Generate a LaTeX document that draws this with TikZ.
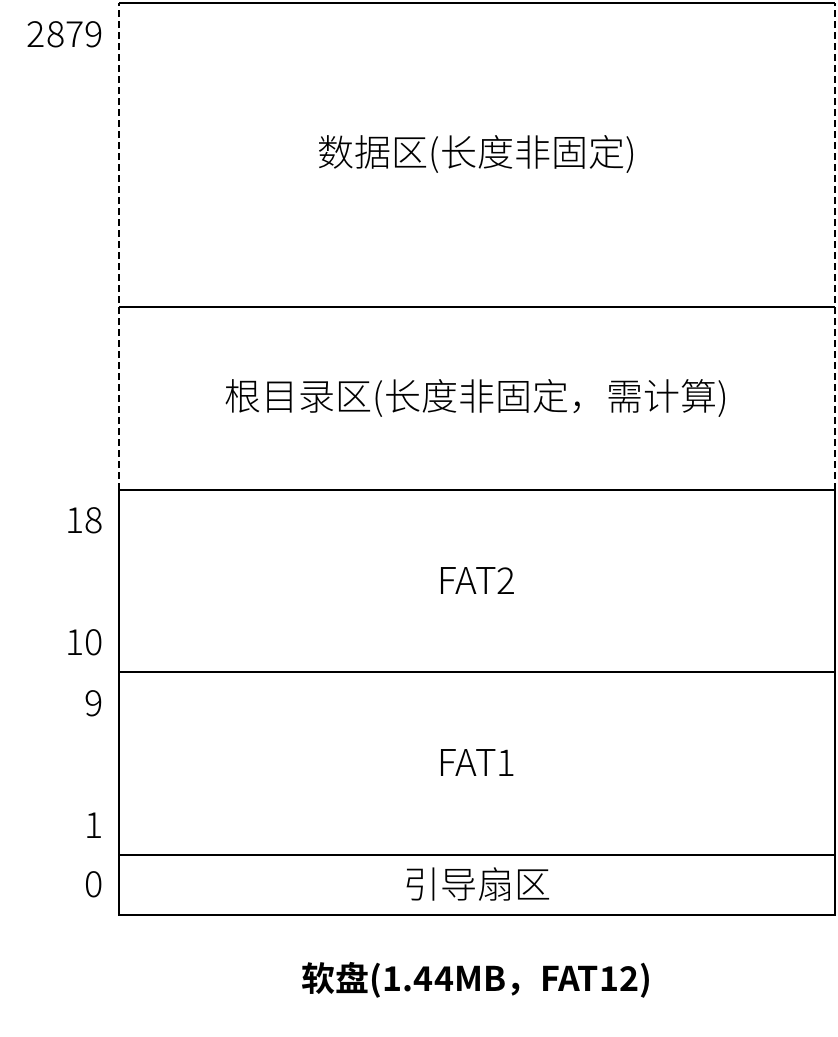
\documentclass[tikz,border=0pt]{standalone}
\usepackage{fontspec}
\newfontfamily\cjk{Noto Sans CJK SC Light}
\newfontfamily\cjkbold{Noto Sans CJK SC Bold}
\usetikzlibrary{positioning}

\tikzstyle{sector} = [rectangle, minimum width=716pt, inner sep=0pt, outer sep=0pt, draw=black, line width=2pt, text centered, font=\cjk\fontsize{37}{40}\selectfont]
\tikzstyle{open_sector} = [sector, draw=none]
\tikzstyle{edge_line} = [line width=2pt]
\tikzstyle{dash_line} = [line width=2.2pt, dash pattern=on 7pt off 4pt]
\tikzstyle{sector_no} = [inner sep=0pt, anchor=east, font=\cjk\fontsize{36}{40}\selectfont]

\begin{document}
\begin{tikzpicture}[x=1pt, y=-1pt, node distance=0pt]
    \useasboundingbox (0,0) rectangle (838,1037);

    % Draw sectors, from the bottom up
    \node (boot) [sector, minimum height=60pt] at (477,885) {引导扇区};
    \node (fat1) [sector, minimum height=183pt, above=of boot] {FAT1};
    \node (fat2) [sector, minimum height=182pt, above=of fat1] {FAT2};
    \node (root) [open_sector, minimum height=183pt, above=of fat2] {根目录区(长度非固定，需计算)};
    \node (data) [open_sector, minimum height=304pt, above=of root] {数据区(长度非固定)};

    % Draw borders of the open sectors
    \draw [edge_line] (data.north west) -- (data.north east);
    \draw [edge_line] (root.north west) -- (root.north east);
    \draw [dash_line] (fat2.north west) -- (data.north west);
    \draw [dash_line] (fat2.north east) -- (data.north east);

    % Draw sector numbers
    \node (no2879) [sector_no] at ([xshift=-15pt, yshift=-32pt]data.north west) {2879};
    \node (no18) [sector_no] at ([xshift=-15pt, yshift=-31pt]fat2.north west) {18};
    \node (no10) [sector_no] at ([xshift=-15pt, yshift=29pt]fat2.south west) {10};
    \node (no9) [sector_no] at ([xshift=-15pt, yshift=-32pt]fat1.north west) {9};
    \node (no1) [sector_no] at ([xshift=-15pt, yshift=29pt]fat1.south west) {1};
    \node (no0) [sector_no] at ([xshift=-15pt]boot.west) {0};

    % Draw caption
    \node (caption) [font=\cjkbold\fontsize{34}{38}\selectfont] at ([yshift=-65pt]boot.south) {软盘(1.44MB，FAT12)};

\end{tikzpicture}
\end{document}
